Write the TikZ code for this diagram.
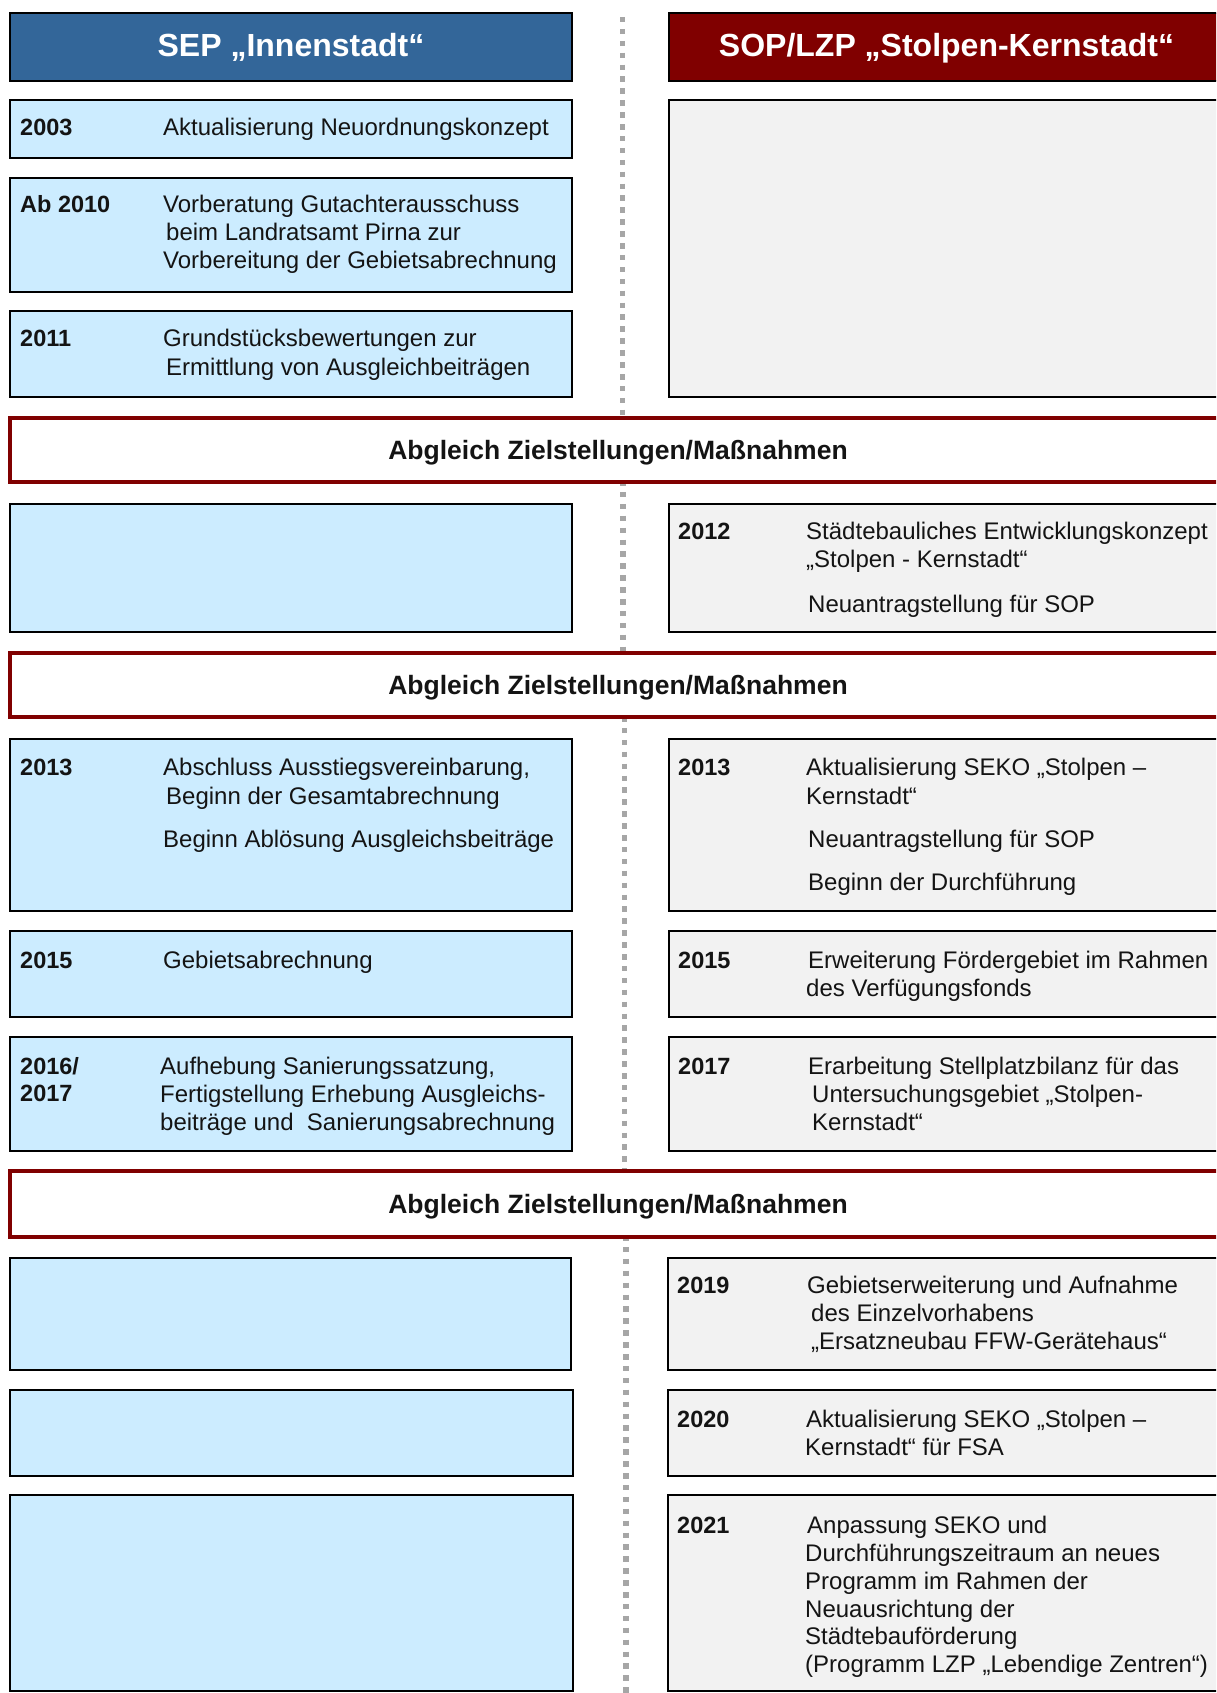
\documentclass[tikz,border=0pt]{standalone}
\usepackage{fontspec}
\setmainfont{Liberation Sans}
\usetikzlibrary{fit}
\definecolor{hdrblue}{HTML}{336699}
\definecolor{hdrred}{HTML}{800000}
\definecolor{lblue}{HTML}{CCECFF}
\definecolor{lgray}{HTML}{F2F2F2}
\definecolor{dotgray}{HTML}{A6A6A6}
\definecolor{txtc}{HTML}{141414}
\begin{document}
\begin{tikzpicture}[x=1pt,y=-1pt,
  box/.style={draw=black, line width=2.8pt, inner sep=0pt, outer sep=0pt},
  lbox/.style={box, fill=lblue},
  rbox/.style={box, fill=lgray},
  abox/.style={draw=hdrred, line width=3.4pt, fill=white, inner sep=0pt, outer sep=0pt},
  txt/.style={anchor=base west, inner sep=0pt, font=\fontsize{24}{28}\selectfont, text=txtc},
  yr/.style={anchor=base west, inner sep=0pt, font=\fontsize{23.5}{28}\selectfont\bfseries, text=txtc},
  htxt/.style={anchor=base, inner sep=0pt, text=white, font=\fontsize{32}{36}\selectfont\bfseries},
  atxt/.style={anchor=base, inner sep=0pt, text=txtc, font=\fontsize{26.5}{30}\selectfont\bfseries},
  dots/.style={draw=dotgray, line width=5.5pt, dash pattern=on 5.5pt off 6.4pt}
]
\useasboundingbox (0,0) rectangle (1216,1693);
\clip (0,0) rectangle (1216,1693);

% dotted centre line
\coordinate (d1a) at (622.5,17);   \coordinate (d1b) at (622.5,420);
\coordinate (d2a) at (623,480);    \coordinate (d2b) at (623,654);
\coordinate (d3a) at (624.5,716);  \coordinate (d3b) at (624.5,1173);
\coordinate (d4a) at (626,1235);   \coordinate (d4b) at (626,1693);
\draw[dots] (d1a) -- (d1b);
\draw[dots] (d2a) -- (d2b);
\draw[dots] (d3a) -- (d3b);
\draw[dots] (d4a) -- (d4b);

% headers
\node[box, fill=hdrblue, fit={(10,13) (572,81)}] (hL) {};
\node[box, fill=hdrred, fit={(669,13) (1225,81)}] (hR) {};
\node[htxt] (hLt) at (291,57) {SEP „Innenstadt“};
\node[htxt] (hRt) at (946.5,57) {SOP/LZP „Stolpen-Kernstadt“};

% block 1
\node[lbox, fit={(10,100) (572,158)}] (L11) {};
\node[lbox, fit={(10,178) (572,292)}] (L12) {};
\node[lbox, fit={(10,311) (572,397)}] (L13) {};
\node[rbox, fit={(669,100) (1225,397)}] (R1) {};

\node[abox, fit={(10,418) (1226,482)}] (A1) {};
\node[atxt] (A1t) at (618,459) {Abgleich Zielstellungen/Maßnahmen};

% block 2
\node[lbox, fit={(10,504) (572,632)}] (L2) {};
\node[rbox, fit={(669,504) (1225,632)}] (R2) {};

\node[abox, fit={(10,653) (1226,717)}] (A2) {};
\node[atxt] (A2t) at (618,694.5) {Abgleich Zielstellungen/Maßnahmen};

% block 3
\node[lbox, fit={(10,739) (572,911)}] (L31) {};
\node[lbox, fit={(10,931) (572,1017)}] (L32) {};
\node[lbox, fit={(10,1037) (572,1151)}] (L33) {};
\node[rbox, fit={(669,739) (1225,911)}] (R31) {};
\node[rbox, fit={(669,931) (1225,1017)}] (R32) {};
\node[rbox, fit={(669,1037) (1225,1151)}] (R33) {};

\node[abox, fit={(10,1171) (1226,1237)}] (A3) {};
\node[atxt] (A3t) at (618,1213) {Abgleich Zielstellungen/Maßnahmen};

% block 4
\node[lbox, fit={(10,1258) (571,1370)}] (L41) {};
\node[lbox, fit={(10,1390) (573,1476)}] (L42) {};
\node[lbox, fit={(10,1495) (573,1691)}] (L43) {};
\node[rbox, fit={(668,1258) (1225,1370)}] (R41) {};
\node[rbox, fit={(668,1390) (1225,1476)}] (R42) {};
\node[rbox, fit={(668,1495) (1225,1691)}] (R43) {};

% texts block 1
\node[yr]  (y2003)  at (20,136)  {2003};
\node[txt] (t2003)  at (163,136) {Aktualisierung Neuordnungskonzept};
\node[yr]  (y2010)  at (20,213)  {Ab 2010};
\node[txt] (t2010a) at (163,213) {Vorberatung Gutachterausschuss};
\node[txt] (t2010b) at (166,241) {beim Landratsamt Pirna zur};
\node[txt] (t2010c) at (163,269) {Vorbereitung der Gebietsabrechnung};
\node[yr]  (y2011)  at (20,346)  {2011};
\node[txt] (t2011a) at (163,346) {Grundstücksbewertungen zur};
\node[txt] (t2011b) at (166,375) {Ermittlung von Ausgleichbeiträgen};

% texts block 2
\node[yr]  (y2012)  at (678,539) {2012};
\node[txt] (t2012a) at (806,539) {Städtebauliches Entwicklungskonzept};
\node[txt] (t2012b) at (806,567) {„Stolpen - Kernstadt“};
\node[txt] (t2012c) at (808,612) {Neuantragstellung für SOP};

% texts block 3 left
\node[yr]  (yL2013)  at (20,775)  {2013};
\node[txt] (tL2013a) at (163,775) {Abschluss Ausstiegsvereinbarung,};
\node[txt] (tL2013b) at (166,804) {Beginn der Gesamtabrechnung};
\node[txt] (tL2013c) at (163,847) {Beginn Ablösung Ausgleichsbeiträge};
\node[yr]  (yL2015)  at (20,968)  {2015};
\node[txt] (tL2015)  at (163,968) {Gebietsabrechnung};
\node[yr]  (y2016)   at (20,1074) {2016/};
\node[yr]  (y2017b)  at (20,1101) {2017};
\node[txt] (t2016a)  at (160,1074) {Aufhebung Sanierungssatzung,};
\node[txt] (t2016b)  at (160,1102) {Fertigstellung Erhebung Ausgleichs-};
\node[txt] (t2016c)  at (160,1130) {beiträge und~ Sanierungsabrechnung};

% texts block 3 right
\node[yr]  (yR2013)  at (678,775) {2013};
\node[txt] (tR2013a) at (806,775) {Aktualisierung SEKO „Stolpen –};
\node[txt] (tR2013b) at (806,804) {Kernstadt“};
\node[txt] (tR2013c) at (808,847) {Neuantragstellung für SOP};
\node[txt] (tR2013d) at (808,890) {Beginn der Durchführung};
\node[yr]  (yR2015)  at (678,968) {2015};
\node[txt] (tR2015a) at (808,968) {Erweiterung Fördergebiet im Rahmen};
\node[txt] (tR2015b) at (806,996) {des Verfügungsfonds};
\node[yr]  (yR2017)  at (678,1074) {2017};
\node[txt] (tR2017a) at (808,1074) {Erarbeitung Stellplatzbilanz für das};
\node[txt] (tR2017b) at (812,1102) {Untersuchungsgebiet „Stolpen-};
\node[txt] (tR2017c) at (812,1130) {Kernstadt“};

% texts block 4 right
\node[yr]  (y2019)  at (677,1293) {2019};
\node[txt] (t2019a) at (807,1293) {Gebietserweiterung und Aufnahme};
\node[txt] (t2019b) at (811,1321) {des Einzelvorhabens};
\node[txt] (t2019c) at (811,1349) {„Ersatzneubau FFW-Gerätehaus“};
\node[yr]  (y2020)  at (677,1427) {2020};
\node[txt] (t2020a) at (806,1427) {Aktualisierung SEKO „Stolpen –};
\node[txt] (t2020b) at (805,1455) {Kernstadt“ für FSA};
\node[yr]  (y2021)  at (677,1533) {2021};
\node[txt] (t2021a) at (807,1533) {Anpassung SEKO und};
\node[txt] (t2021b) at (805,1561) {Durchführungszeitraum an neues};
\node[txt] (t2021c) at (805,1589) {Programm im Rahmen der};
\node[txt] (t2021d) at (805,1617) {Neuausrichtung der};
\node[txt] (t2021e) at (805,1644) {Städtebauförderung};
\node[txt] (t2021f) at (805,1672) {(Programm LZP „Lebendige Zentren“)};
\end{tikzpicture}
\end{document}
